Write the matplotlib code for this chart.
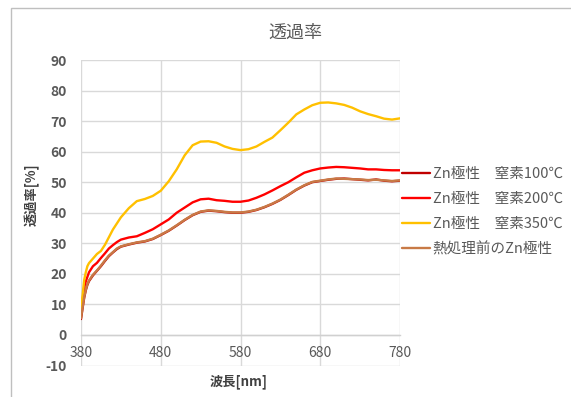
import matplotlib
matplotlib.use("Agg")
import matplotlib.pyplot as plt
from matplotlib.patches import Rectangle

plt.rcParams['font.family'] = ['Noto Sans CJK JP', 'DejaVu Sans']
plt.rcParams['axes.unicode_minus'] = False

wavelength = [380, 382, 384, 386, 388, 390, 395, 400, 405, 410, 415, 420, 425, 430,
              440, 450, 460, 470, 480, 490, 500, 510, 520, 530, 540, 550, 560, 570,
              580, 590, 600, 610, 620, 630, 640, 650, 660, 670, 680, 690, 700, 710,
              720, 730, 740, 750, 760, 770, 780]

zn_n100 = [5.2, 8.8, 12.2, 14.6, 16.4, 17.6, 19.5, 21.0, 22.5, 24.2, 25.8, 27.0, 28.1, 28.9,
           29.6, 30.2, 30.6, 31.4, 32.7, 34.1, 35.8, 37.6, 39.2, 40.3, 40.7, 40.5, 40.2, 40.0,
           40.0, 40.3, 40.9, 41.8, 42.9, 44.2, 45.8, 47.5, 48.9, 50.0, 50.4, 50.8, 51.1, 51.2,
           51.0, 50.8, 50.6, 50.9, 50.5, 50.3, 50.5]

zn_n200 = [7.5, 11.5, 15.5, 17.5, 19.0, 20.5, 22.5, 23.6, 25.2, 26.7, 28.3, 29.4, 30.4, 31.2,
           31.9, 32.3, 33.4, 34.6, 36.2, 37.8, 40.0, 41.7, 43.4, 44.4, 44.6, 44.1, 43.9, 43.6,
           43.6, 44.0, 44.9, 46.0, 47.3, 48.7, 50.0, 51.6, 53.1, 53.9, 54.5, 54.8, 55.0, 54.9,
           54.7, 54.5, 54.2, 54.2, 54.0, 53.9, 53.9]

zn_n350 = [8.0, 13.0, 18.0, 20.5, 22.5, 23.5, 25.0, 26.5, 27.5, 29.5, 32.0, 34.5, 36.5, 38.5,
           41.5, 43.8, 44.5, 45.5, 47.2, 50.3, 54.2, 58.8, 62.1, 63.3, 63.4, 62.9, 61.7, 60.9,
           60.5, 60.8, 61.7, 63.2, 64.6, 67.0, 69.5, 72.2, 73.8, 75.2, 76.0, 76.1, 75.8, 75.3,
           74.4, 73.2, 72.3, 71.6, 70.8, 70.5, 70.9]

zn_before = [5.5, 9.0, 12.4, 14.8, 16.6, 17.8, 19.7, 21.1, 22.7, 24.4, 26.0, 27.1, 28.3, 29.0,
             29.7, 30.3, 30.7, 31.5, 32.8, 34.2, 35.9, 37.7, 39.3, 40.4, 40.8, 40.6, 40.3, 40.1,
             40.1, 40.4, 41.0, 41.9, 43.0, 44.3, 45.9, 47.6, 49.0, 50.1, 50.5, 50.9, 51.2, 51.1,
             51.0, 50.9, 50.7, 50.8, 50.6, 50.4, 50.6]

series_labels = ['Zn極性\u3000窒素100℃', 'Zn極性\u3000窒素200℃', 'Zn極性\u3000窒素350℃', '熱処理前のZn極性']
series_colors = ['#C00000', '#FF0000', '#FFC000', '#C87A46']

xticks = [380, 480, 580, 680, 780]
yticks = [-10, 0, 10, 20, 30, 40, 50, 60, 70, 80, 90]

W, H = 571, 397
fig = plt.figure(figsize=(W / 100, H / 100), dpi=100)
fig.patch.set_facecolor('white')

# chart frame
fig.patches.append(Rectangle((11 / W, -0.1), 1.2, 1 - 8 / H + 0.1, transform=fig.transFigure,
                             fill=False, edgecolor='#BFBFBF', linewidth=1.0))

ax = fig.add_axes([81 / W, 1 - 365.5 / H, (400 - 81) / W, (365.5 - 60) / H])

for vals, lab, col in zip([zn_n100, zn_n200, zn_n350, zn_before], series_labels, series_colors):
    ax.plot(wavelength, vals, color=col, linewidth=1.7, label=lab, solid_capstyle='round')

ax.set_xlim(380, 780)
ax.set_ylim(-10, 90)
ax.set_xticks(xticks)
ax.set_yticks(yticks)
ax.grid(True, color='#D9D9D9', linewidth=1.0)
ax.set_axisbelow(True)
for s in ['top', 'right', 'left']:
    ax.spines[s].set_visible(False)
ax.spines['bottom'].set_position(('data', 0))
ax.spines['bottom'].set_color('#D0D0D0')
ax.spines['bottom'].set_linewidth(1.0)

ax.tick_params(axis='x', length=0, pad=8, labelsize=10, labelcolor='#595959')
ax.tick_params(axis='y', length=0, pad=10, labelsize=10, labelcolor='#595959')
for t in ax.get_yticklabels():
    t.set_fontweight('bold')

ax.text((32 - 81) / 319, (365.5 - 195) / 305.5, '透過率[%]', transform=ax.transAxes,
        rotation=90, ha='center', va='center', fontsize=9.5, fontweight='bold', color='#404040')
ax.text((239 - 81) / 319, (365.5 - 382) / 305.5, '波長[nm]', transform=ax.transAxes,
        ha='center', va='center', fontsize=9.5, fontweight='bold', color='#404040')

fig.text(295 / W, 1 - 33 / H, '透過率', ha='center', va='center', fontsize=13, color='#595959')

leg = fig.legend(loc='upper left', bbox_to_anchor=(402 / W, 1 - 167 / H), frameon=False,
                 fontsize=10.5, handlelength=1.9, handletextpad=0.2, labelspacing=0.75,
                 borderaxespad=0, borderpad=0)
for t in leg.get_texts():
    t.set_color('#595959')

fig.savefig('out.png', dpi=100, facecolor='white')
